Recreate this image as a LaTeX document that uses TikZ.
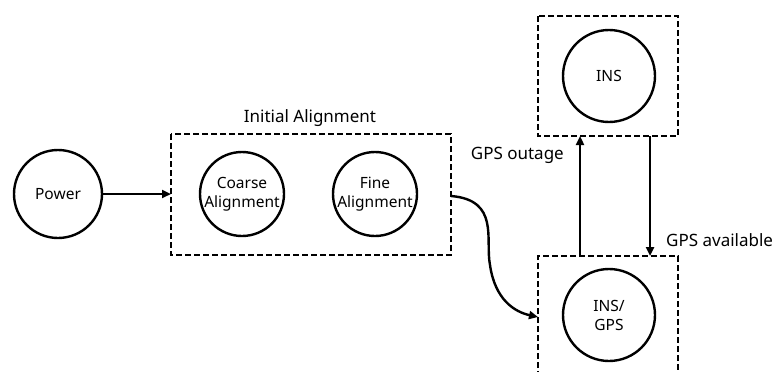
\documentclass[tikz,border=0pt]{standalone}
\usepackage{fontspec}
\setmainfont{Noto Sans}
\usetikzlibrary{arrows.meta}
\begin{document}
\begin{tikzpicture}[x=1pt,y=-1pt,
  state/.style={circle,draw,line width=2.4pt,minimum size=90pt,inner sep=0pt,align=center,font=\fontsize{15.5}{19}\selectfont},
  group/.style={draw,line width=2.4pt,dash pattern=on 6pt off 3pt},
  flow/.style={line width=2.4pt,-{Triangle[length=9pt,width=8pt]}},
  lbl/.style={font=\fontsize{17}{20}\selectfont,inner sep=0pt}]
\useasboundingbox (0,0) rectangle (774,372);
% containers
\draw[group] (171,134) rectangle (451,255);
\draw[group] (538,16) rectangle (678,136);
\draw[group] (538,395) -- (538,256) -- (678,256) -- (678,395);
\coordinate (alignL) at (171,194);
\coordinate (alignR) at (451,196);
\coordinate (insB1) at (580,136);
\coordinate (insB2) at (650,136);
\coordinate (igT1) at (580,256);
\coordinate (igT2) at (650,256);
\coordinate (igL) at (538,317);
% states
\node[state,minimum size=88pt] (power) at (58,194) {Power};
\node[state,minimum size=84pt] (coarse) at (242,194) {Coarse\\Alignment};
\node[state,minimum size=84pt] (fine) at (375,194) {Fine\\Alignment};
\node[state,minimum size=92pt] (ins) at (609,76) {INS};
\node[state,minimum size=92pt] (insgps) at (609,315) {INS/\\GPS};
% labels
\node[lbl] (title) at (310,118) {Initial Alignment};
\node[lbl,anchor=east] (outage) at (564,155) {GPS outage};
\node[lbl,anchor=west] (avail) at (666,240) {GPS available};
% transitions
\draw[flow] (power) -- (alignL);
\draw[flow] (alignR) .. controls (500,200) and (485,240) .. (490,265) .. controls (495,300) and (515,312) .. (igL);
\draw[flow] (igT1) -- (insB1);
\draw[flow] (insB2) -- (igT2);
\end{tikzpicture}
\end{document}
